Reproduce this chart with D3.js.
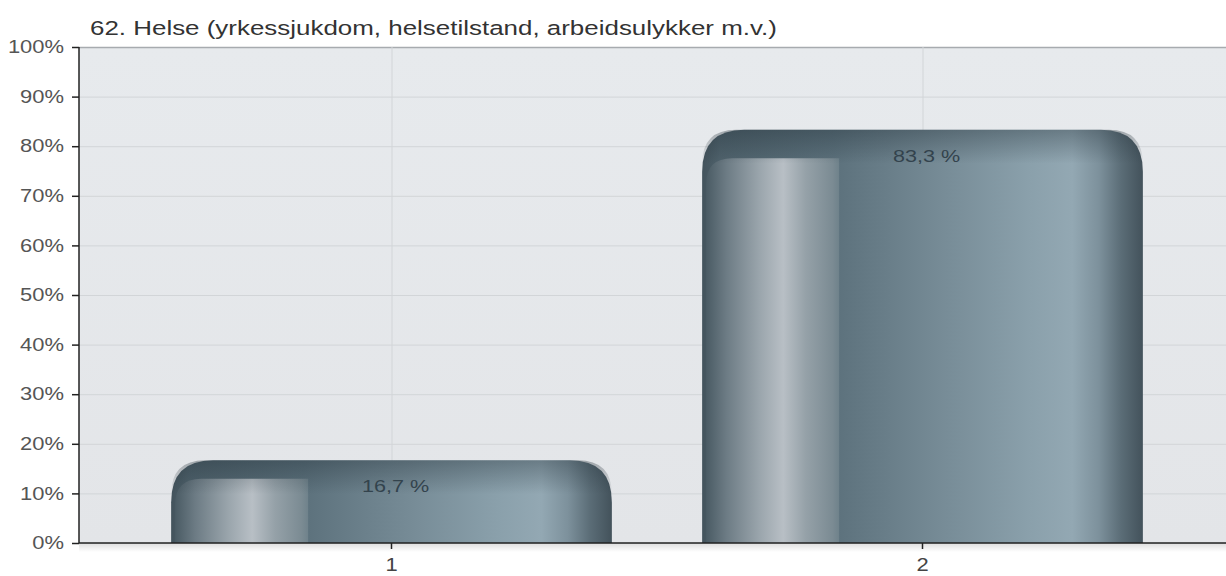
<!DOCTYPE html>
<html><head><meta charset="utf-8">
<script src="https://cdn.jsdelivr.net/npm/d3@7"></script>
<style>html,body{margin:0;padding:0;background:#fff;}svg{display:block;font-family:"Liberation Sans",Arial,sans-serif;}</style>
</head><body>
<svg id="c" width="1226" height="576"></svg>
<script>
const title = "62. Helse (yrkessjukdom, helsetilstand, arbeidsulykker m.v.)";
const categories = ["1", "2"];
const values = [16.7, 83.3];
const valueLabels = ["16,7 %", "83,3 %"];
const yTicks = [0, 10, 20, 30, 40, 50, 60, 70, 80, 90, 100];

const svg = d3.select("#c");
const L = 79, R = 1226, T = 47, B = 543;
const SX = 1.22; // horizontal text stretch of the original
const x = d3.scaleBand().domain(categories).range([126, 1188]).paddingInner(0.17).paddingOuter(0.085);
const y = d3.scaleLinear().domain([0, 100]).range([B, T]);

const defs = svg.append("defs");
const bg = defs.append("linearGradient").attr("id","bg").attr("x1",0).attr("y1",0).attr("x2",0).attr("y2",1);
bg.append("stop").attr("offset",0).attr("stop-color","#e7eaed");
bg.append("stop").attr("offset",1).attr("stop-color","#e3e5e8");

const body = defs.append("linearGradient").attr("id","body").attr("x1",0).attr("y1",0).attr("x2",1).attr("y2",0);
[[0,"#43535c"],[0.04,"#4f626c"],[0.3,"#5c717c"],[0.55,"#778c97"],[0.74,"#8aa0ab"],[0.84,"#93a8b3"],[0.9,"#7d919c"],[0.95,"#5b6d77"],[1,"#43525b"]]
  .forEach(s=>body.append("stop").attr("offset",s[0]).attr("stop-color",s[1]));

const inner = defs.append("linearGradient").attr("id","inner").attr("x1",0).attr("y1",0).attr("x2",1).attr("y2",0);
[[0,"#4a5b64"],[0.15,"#6c7b84"],[0.4,"#9aa5ac"],[0.58,"#b8bfc5"],[0.75,"#95a1a8"],[0.95,"#7b8b93"],[1,"#6f828b"]]
  .forEach(s=>inner.append("stop").attr("offset",s[0]).attr("stop-color",s[1]));

const topShade = defs.append("linearGradient").attr("id","topShade").attr("x1",0).attr("y1",0).attr("x2",0).attr("y2",1);
topShade.append("stop").attr("offset",0).attr("stop-color","#1d2a32").attr("stop-opacity",0.35);
topShade.append("stop").attr("offset",1).attr("stop-color","#1d2a32").attr("stop-opacity",0);

const axShadow = defs.append("linearGradient").attr("id","axShadow").attr("x1",0).attr("y1",0).attr("x2",0).attr("y2",1);
axShadow.append("stop").attr("offset",0).attr("stop-color","#000").attr("stop-opacity",0.12);
axShadow.append("stop").attr("offset",1).attr("stop-color","#000").attr("stop-opacity",0);

// plot background
svg.append("rect").attr("x",L).attr("y",T).attr("width",R-L).attr("height",B-T).attr("fill","url(#bg)");

// horizontal grid
svg.append("g").selectAll("line").data(yTicks).join("line")
  .attr("x1",L).attr("x2",R).attr("y1",d=>y(d)+0.5).attr("y2",d=>y(d)+0.5)
  .attr("stroke",d=>d===100?"#a7abaf":"#d2d5d8").attr("stroke-width",d=>d===100?1.5:1);
// vertical grid
svg.append("g").selectAll("line").data(categories).join("line")
  .attr("x1",d=>x(d)+x.bandwidth()/2+0.5).attr("x2",d=>x(d)+x.bandwidth()/2+0.5)
  .attr("y1",T).attr("y2",B).attr("stroke","#d2d5d8");

function roundTop(x0, y0, w, h, r, rr){
  r = Math.min(r, h, w/2);
  rr = rr === undefined ? r : Math.min(rr, h, w/2);
  return `M${x0},${y0+h}V${y0+r}Q${x0},${y0} ${x0+r},${y0}H${x0+w-rr}Q${x0+w},${y0} ${x0+w},${y0+rr}V${y0+h}Z`;
}

const bars = svg.append("g").selectAll("g").data(categories.map((c,i)=>({c, v:values[i], label:valueLabels[i]}))).join("g");
bars.each(function(d){
  const g = d3.select(this);
  const x0 = x(d.c), w = x.bandwidth(), y0 = y(d.v), h = B - y0;
  g.append("path").attr("d", roundTop(x0, y0, w, h, 42)).attr("fill","url(#body)");
  const off = Math.min(30, 16 + h*0.03);
  g.append("path").attr("d", roundTop(x0+4, y0+off, 133, h-off, 26, 0)).attr("fill","url(#inner)");
  g.append("path").attr("d", roundTop(x0, y0, w, Math.min(h, 34), 42)).attr("fill","url(#topShade)");
  g.append("text").attr("transform",`translate(${x0 + w/2 + 4},${y0 + 32}) scale(1.35,1)`).attr("text-anchor","middle")
    .attr("font-size",16).attr("fill","#33434d").text(d.label);
});

// axis shadow
svg.append("rect").attr("x",L).attr("y",B+1).attr("width",R-L).attr("height",8).attr("fill","url(#axShadow)");

// y axis
const yAxis = svg.append("g").attr("transform",`translate(${L},0)`)
  .call(d3.axisLeft(y).tickValues(yTicks).tickFormat(d=>d+"%").tickSize(7).tickPadding(8));
yAxis.select(".domain").attr("stroke","#222").attr("stroke-width",1.5).attr("d",`M0,${T}V${B}`);
yAxis.selectAll(".tick line").attr("stroke","#222").attr("stroke-width",1.5);
yAxis.selectAll(".tick text").attr("font-size",18).attr("fill","#555")
  .attr("font-family","Liberation Sans, Arial, sans-serif")
  .attr("x",-15/SX).attr("transform",`scale(${SX},1)`);

// x axis
const xAxis = svg.append("g").attr("transform",`translate(0,${B})`)
  .call(d3.axisBottom(x).tickSize(6).tickPadding(9));
xAxis.select(".domain").attr("stroke","#222").attr("stroke-width",1.5).attr("d",`M${L},0H${R}`);
xAxis.selectAll(".tick line").attr("stroke","#222").attr("stroke-width",1.5);
xAxis.selectAll(".tick text").attr("font-size",18).attr("fill","#444")
  .attr("font-family","Liberation Sans, Arial, sans-serif").attr("transform",`scale(${SX},1)`);

// title
svg.append("text").attr("transform","translate(90,35) scale(1.33,1)").attr("font-size",19.5).attr("fill","#333").text(title);
</script>
</body></html>
